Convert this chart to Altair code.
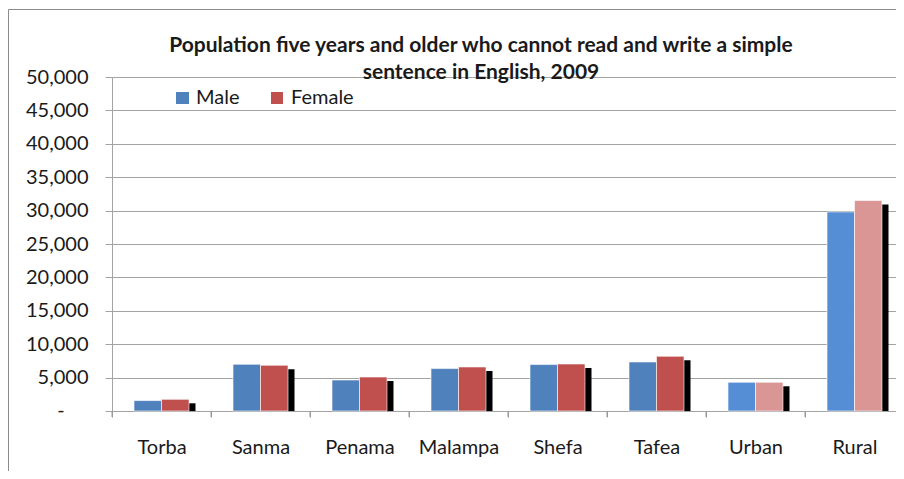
import altair as alt
import pandas as pd

categories = ["Torba", "Sanma", "Penama", "Malampa", "Shefa", "Tafea", "Urban", "Rural"]
male = [1560, 6990, 4640, 6350, 6950, 7340, 4300, 29800]
female = [1750, 6840, 5090, 6590, 7040, 8190, 4300, 31500]
area_kind = ["Province", "Province", "Province", "Province", "Province", "Province", "Total", "Total"]
series = ["Male", "Female"]
y_ticks = [0, 5000, 10000, 15000, 20000, 25000, 30000, 35000, 40000, 45000, 50000]
zero_label = "-"
title_lines = [
    "Population five years and older who cannot read and write a simple",
    "sentence in English, 2009",
]

rows = []
for c, k, m, f in zip(categories, area_kind, male, female):
    rows.append({"area": c, "series": "Male", "value": m, "key": "Male " + k})
    rows.append({"area": c, "series": "Female", "value": f, "key": "Female " + k})
df = pd.DataFrame(rows)
df_f = df[df["series"] == "Female"]
df_cat = pd.DataFrame({"area": categories})
one = pd.DataFrame({"k": [0]})

FONT = "Lato"
GRID = "#A3A3A3"
TXT = "#1a1a1a"
W, H = 784, 334
STEP = 99

x_scale = alt.Scale(domain=categories, range=[0, 8 * STEP], paddingInner=0, paddingOuter=0)
xo_scale = alt.Scale(domain=series, paddingInner=0, paddingOuter=0.8)
y_scale = alt.Scale(domain=[0, 50000], nice=False)
color_scale = alt.Scale(
    domain=["Male Province", "Female Province", "Male Total", "Female Total"],
    range=["#4F81BD", "#C0504D", "#558ED5", "#D99694"],
)

y_axis = alt.Axis(
    values=y_ticks,
    grid=True, gridColor=GRID, gridWidth=1,
    domainColor=GRID, tickColor=GRID, tickSize=7,
    labelFont=FONT, labelFontSize=20, labelColor=TXT, labelPadding=17,
    labelExpr="datum.value == 0 ? '' : format(datum.value, ',')",
    title=None,
)
x_axis = alt.Axis(
    ticks=True, tickColor="#999999", tickSize=6, tickWidth=1, tickBand="extent",
    domain=False, grid=False, labelAngle=0,
    labelFont=FONT, labelFontSize=20, labelColor=TXT, labelPadding=20,
    title=None, zindex=1,
)

X = alt.X("area:N", scale=x_scale, sort=categories, axis=x_axis)
Y = alt.Y("value:Q", scale=y_scale, axis=y_axis)

shadow = alt.Chart(df_f).mark_bar(color="black", width=27, xOffset=20.5, yOffset=4).encode(
    x=X, y=Y, y2=alt.value(H - 4),
)

bars = alt.Chart(df).mark_bar(stroke="white", strokeWidth=1, strokeOpacity=0.6).encode(
    x=X,
    xOffset=alt.XOffset("series:N", scale=xo_scale, sort=series),
    y=Y,
    color=alt.Color("key:N", scale=color_scale, legend=None),
)

# category separator ticks below the baseline, at the left edge of each band
xticks = alt.Chart(df_cat).mark_rule(color="#999999", strokeWidth=1).encode(
    x=alt.X("area:N", scale=x_scale, sort=categories, axis=x_axis, bandPosition=0),
    y=alt.value(H),
    y2=alt.value(H + 6),
)

zero_tx = alt.Chart(one).mark_text(
    text=zero_label, font=FONT, fontSize=20, color=TXT, align="center", baseline="middle"
).encode(x=alt.value(-51), y=alt.value(H))

legend_box = alt.Chart(one).mark_rect(color="white").encode(
    x=alt.value(46), x2=alt.value(257), y=alt.value(6), y2=alt.value(33)
)
leg_m_sq = alt.Chart(one).mark_rect(color="#4F81BD").encode(
    x=alt.value(64), x2=alt.value(77), y=alt.value(15), y2=alt.value(27)
)
leg_f_sq = alt.Chart(one).mark_rect(color="#C0504D").encode(
    x=alt.value(159), x2=alt.value(171), y=alt.value(15), y2=alt.value(27)
)
leg_m_tx = alt.Chart(one).mark_text(
    text=series[0], font=FONT, fontSize=20, color=TXT, align="left", baseline="middle"
).encode(x=alt.value(84), y=alt.value(21))
leg_f_tx = alt.Chart(one).mark_text(
    text=series[1], font=FONT, fontSize=20, color=TXT, align="left", baseline="middle"
).encode(x=alt.value(179), y=alt.value(21))

title1 = alt.Chart(one).mark_text(
    text=title_lines[0], font=FONT, fontSize=21, fontWeight="bold", color=TXT,
    align="center", baseline="middle",
).encode(x=alt.value(369), y=alt.value(-31))
title2 = alt.Chart(one).mark_text(
    text=title_lines[1], font=FONT, fontSize=21, fontWeight="bold", color=TXT,
    align="center", baseline="middle",
).encode(x=alt.value(369), y=alt.value(-4))

frame_top = alt.Chart(one).mark_rule(color="#8c8c8c").encode(
    x=alt.value(-103.5), x2=alt.value(800), y=alt.value(-67.5)
)
frame_left = alt.Chart(one).mark_rule(color="#8c8c8c").encode(
    x=alt.value(-103.5), y=alt.value(-67.5), y2=alt.value(410)
)

chart = alt.layer(
    shadow, bars, xticks, zero_tx, legend_box, leg_m_sq, leg_f_sq, leg_m_tx, leg_f_tx,
    title1, title2, frame_top, frame_left,
).properties(
    width=W, height=H,
    padding={"left": 104, "top": 69, "right": 0, "bottom": 60},
    autosize=alt.AutoSizeParams(type="none"),
    background="white",
).configure_view(stroke=None)

chart.save("out.html", embed_options={"renderer": "svg", "actions": False})
